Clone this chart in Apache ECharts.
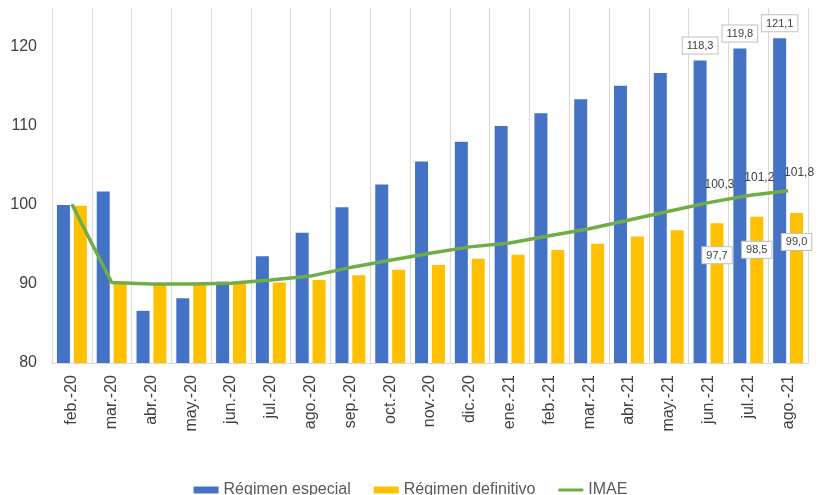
<!DOCTYPE html>
<html>
<head>
<meta charset="utf-8">
<script src="https://cdn.jsdelivr.net/npm/echarts@6/dist/echarts.min.js"></script>
<style>html,body{margin:0;padding:0;background:#fff;}#c{width:821px;height:495px;}</style>
</head>
<body>
<div id="c"></div>
<script>
var categories = ['feb.-20','mar.-20','abr.-20','may.-20','jun.-20','jul.-20','ago.-20','sep.-20','oct.-20','nov.-20','dic.-20','ene.-21','feb.-21','mar.-21','abr.-21','may.-21','jun.-21','jul.-21','ago.-21'];
var regimenEspecial = [100.0,101.7,86.6,88.2,90.3,93.5,96.5,99.7,102.6,105.5,108.0,110.0,111.6,113.4,115.1,116.7,118.3,119.8,121.1];
var regimenDefinitivo = [99.9,90.1,90.0,90.0,90.1,90.2,90.5,91.1,91.8,92.4,93.2,93.7,94.3,95.1,96.0,96.8,97.7,98.5,99.0];
var imae = [100.1,90.2,90.0,90.0,90.1,90.5,91.0,92.1,93.0,93.9,94.7,95.2,96.1,97.0,98.1,99.2,100.3,101.2,101.8];
var yTicks = [80,90,100,110,120];

var FONT = '"Liberation Sans", Arial, sans-serif';
function fmt(v){ return v.toFixed(1).replace('.', ','); }
var boxLabel = {
  show: true, fontFamily: FONT, fontSize: 11, color: '#404040',
  backgroundColor: '#fff', borderColor: '#bfbfbf', borderWidth: 1, padding: [3,4,2,4],
  formatter: function(p){ return fmt(p.value); }
};
var n = categories.length;
var espData = regimenEspecial.map(function(v,i){
  if (i >= n-3) return {value: v, label: Object.assign({}, boxLabel, {position: 'top', distance: 7})};
  return v;
});
var defDist = [24,25,21];
var defData = regimenDefinitivo.map(function(v,i){
  if (i >= n-3) return {value: v, label: Object.assign({}, boxLabel, {position: 'insideTop', distance: defDist[i-(n-3)]})};
  return v;
});
var imaeData = imae.map(function(v,i){
  if (i >= n-3) return {value: v, label: {show: true, position: 'top', distance: 11, offset: [11,-1], fontFamily: FONT, fontSize: 12, color: '#404040', formatter: function(p){ return fmt(p.value); }}};
  return v;
});

var chart = echarts.init(document.getElementById('c'));
chart.setOption({
  animation: false,
  textStyle: {fontFamily: FONT},
  grid: {left: 52, right: 13, top: 7.5, bottom: 132},
  legend: {
    top: 477, left: 'center', itemGap: 23, itemWidth: 25, itemHeight: 7,
    textStyle: {fontFamily: FONT, fontSize: 16, color: '#595959'},
    data: [
      {name: 'Régimen especial', icon: 'rect'},
      {name: 'Régimen definitivo', icon: 'rect'},
      {name: 'IMAE', icon: 'path://M0,0 L25,0 L25,3 L0,3 Z'}
    ]
  },
  xAxis: {
    type: 'category', data: categories,
    axisLine: {show: true, lineStyle: {color: '#d9d9d9', width: 1}},
    axisTick: {show: false},
    splitLine: {show: true, lineStyle: {color: '#d9d9d9', width: 1}},
    axisLabel: {interval: 0, rotate: 90, margin: 12, fontFamily: FONT, fontSize: 16, color: '#404040'}
  },
  yAxis: {
    type: 'value', min: 80, max: 125, interval: 10,
    axisLine: {show: false}, axisTick: {show: false},
    splitLine: {show: false},
    axisLabel: {
      margin: 15, fontFamily: FONT, fontSize: 16, color: '#404040',
      formatter: function(v){ return yTicks.indexOf(v) >= 0 ? String(v) : ''; }
    }
  },
  series: [
    {name: 'Régimen especial', type: 'bar', data: espData, barWidth: 13, barGap: '30%',
     itemStyle: {color: '#4472C4'}},
    {name: 'Régimen definitivo', type: 'bar', data: defData, barWidth: 13, barGap: '30%',
     itemStyle: {color: '#FFC000'}},
    {name: 'IMAE', type: 'line', data: imaeData, symbol: 'circle', symbolSize: 0.1, showSymbol: true, smooth: false,
     lineStyle: {color: '#70AD47', width: 3.5}, itemStyle: {color: '#70AD47'}, z: 5}
  ]
});
</script>
</body>
</html>
